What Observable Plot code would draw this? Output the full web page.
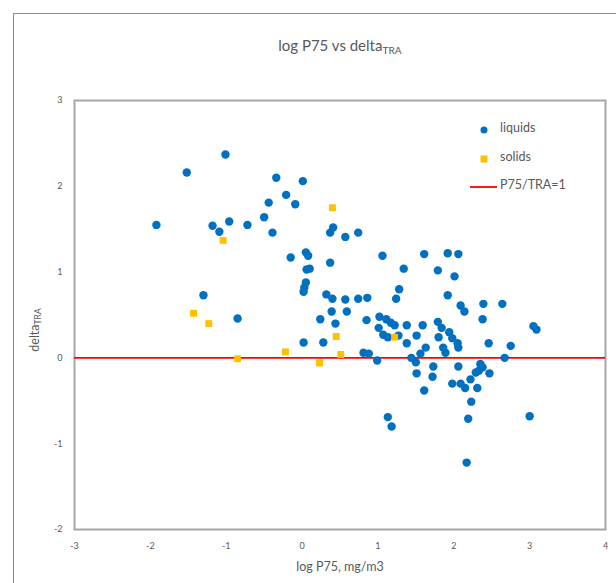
<!DOCTYPE html>
<html>
<head>
<meta charset="utf-8">
<script src="https://cdn.jsdelivr.net/npm/d3@7"></script>
<script src="https://cdn.jsdelivr.net/npm/@observablehq/plot@0.6"></script>
<style>
  html, body { margin: 0; padding: 0; background: #fff; overflow: hidden; }
  #wrap { position: relative; width: 616px; height: 583px; font-family: Lato, "Open Sans", sans-serif; color: #595959; }
  #border { position: absolute; left: 13px; top: 13px; width: 700px; height: 700px; border: 1.5px solid #8c8c8c; box-sizing: border-box; }
  #chart { position: absolute; left: 0; top: 0; }
  .lbl { position: absolute; white-space: nowrap; }
  #title { left: 0; width: 680px; top: 36px; text-align: center; font-size: 15px; }
  #xlabel { left: 0; width: 680px; top: 559px; text-align: center; font-size: 12.5px; }
  #ylabel { left: 35px; top: 330px; font-size: 12.5px; transform: translate(-50%, -50%) rotate(-90deg); }
  sub { font-size: 0.68em; vertical-align: -0.25em; }
  #legend { position: absolute; left: 466px; top: 120px; font-size: 12.5px; }
  .li { position: relative; height: 28.5px; }
  .li span.t { position: absolute; left: 34px; top: 0; }
  .sym { position: absolute; }
</style>
</head>
<body>
<div id="wrap">
  <div id="border"></div>
  <div id="chart"></div>
  <div class="lbl" id="title">log P75 vs delta<sub>TRA</sub></div>
  <div class="lbl" id="xlabel">log P75, mg/m3</div>
  <div class="lbl" id="ylabel">delta<sub>TRA</sub></div>
  <div id="legend"></div>
</div>
<script>
// liquids: log P75 (x) and delta TRA (y)
const liquidX = [-1.92,-1.52,-1.01,-1.18,-1.09,-0.96,-0.72,-0.50,-0.44,-0.39,-0.34,-0.21,-0.09,0.01,-0.15,0.05,0.08,0.06,0.10,0.05,0.03,0.02,-1.30,-0.85,0.02,0.28,
  0.41,0.37,0.57,0.74,0.37,0.32,0.40,0.57,0.74,0.86,0.39,0.59,0.24,0.44,0.85,1.02,1.11,1.17,1.22,1.01,1.07,1.13,1.27,1.06,1.28,1.24,1.34,1.38,1.59,1.38,1.51,1.63,1.56,
  1.61,1.92,2.06,1.79,2.01,1.92,2.09,2.14,2.39,2.64,2.38,3.05,3.09,1.79,1.84,1.80,1.94,1.98,2.05,1.86,1.89,2.46,2.75,2.67,0.81,0.88,0.99,1.44,1.50,1.51,1.61,1.13,1.18,
  1.73,1.72,2.06,2.35,2.38,2.33,2.29,2.47,1.98,2.09,2.15,2.22,2.31,2.23,2.19,3.00,2.17,2.06];
const liquidY = [1.55,2.16,2.37,1.54,1.47,1.59,1.55,1.64,1.81,1.46,2.10,1.90,1.79,2.06,1.17,1.23,1.19,1.03,1.04,0.88,0.82,0.77,0.73,0.46,0.18,0.18,
  1.52,1.46,1.41,1.46,1.11,0.74,0.69,0.68,0.69,0.70,0.54,0.54,0.45,0.40,0.44,0.48,0.45,0.41,0.38,0.35,0.27,0.24,0.26,1.19,0.80,0.69,1.04,0.38,0.38,0.17,0.26,0.12,0.05,
  1.21,1.22,1.21,1.02,0.95,0.73,0.61,0.54,0.63,0.63,0.45,0.37,0.33,0.42,0.35,0.24,0.30,0.23,0.17,0.12,0.06,0.17,0.14,0.00,0.06,0.05,-0.03,0.00,-0.05,-0.18,-0.38,-0.69,-0.80,
  -0.10,-0.22,-0.10,-0.07,-0.11,-0.15,-0.17,-0.18,-0.30,-0.30,-0.35,-0.25,-0.35,-0.51,-0.71,-0.68,-1.22,0.12];
// solids
const solidX = [-1.04,-1.43,-1.23,-0.85,-0.22,0.23,0.40,0.45,0.51,1.22];
const solidY = [1.37,0.52,0.40,-0.01,0.07,-0.06,1.75,0.25,0.04,0.24];
// reference line P75/TRA = 1
const refY = [0];
const xTicks = [-3,-2,-1,0,1,2,3,4];
const yTicks = [-2,-1,0,1,2,3];
const legendItems = ["liquids","solids","P75/TRA=1"];

const blue = "#0070C0", gold = "#FFC000", red = "#FF0000", grey = "#595959";
const liquids = liquidX.map((x,i)=>({x, y: liquidY[i]}));
const solids = solidX.map((x,i)=>({x, y: solidY[i]}));

const plot = Plot.plot({
  width: 616, height: 583,
  marginLeft: 74, marginTop: 100, marginRight: 11, marginBottom: 54,
  style: {fontFamily: "Lato, 'Open Sans', sans-serif", background: "transparent"},
  x: {domain: [-3, 4]},
  y: {domain: [-2, 3]},
  marks: [
    Plot.frame({stroke: "#a6a6a6", strokeWidth: 2}),
    Plot.axisX({ticks: xTicks, tickSize: 0, tickPadding: 13, fontSize: 9, color: grey, label: null, tickFormat: d => d < 0 ? "-" + Math.abs(d) : String(d)}),
    Plot.axisY({ticks: yTicks, tickSize: 0, tickPadding: 12, fontSize: 9, color: grey, label: null, tickFormat: d => d < 0 ? "-" + Math.abs(d) : String(d)}),
    Plot.ruleY(refY, {stroke: red, strokeWidth: 1.6}),
    Plot.dot(liquids, {x: "x", y: "y", r: 4.2, fill: blue}),
    Plot.dot(solids, {x: "x", y: "y", r: 3.9, symbol: "square", fill: gold})
  ]
});
document.getElementById("chart").appendChild(plot);

// legend
const lg = document.getElementById("legend");
const syms = [
  `<svg class="sym" width="30" height="16" style="left:0;top:1px"><circle cx="18" cy="9" r="3.5" fill="${blue}"/></svg>`,
  `<svg class="sym" width="30" height="16" style="left:0;top:1px"><rect x="14.5" y="5.5" width="7" height="7" fill="${gold}"/></svg>`,
  `<svg class="sym" width="34" height="16" style="left:0;top:1px"><line x1="4" x2="31" y1="9" y2="9" stroke="${red}" stroke-width="1.8"/></svg>`
];
legendItems.forEach((t,i) => {
  const d = document.createElement("div");
  d.className = "li";
  d.innerHTML = syms[i] + `<span class="t">${t}</span>`;
  lg.appendChild(d);
});
</script>
</body>
</html>
